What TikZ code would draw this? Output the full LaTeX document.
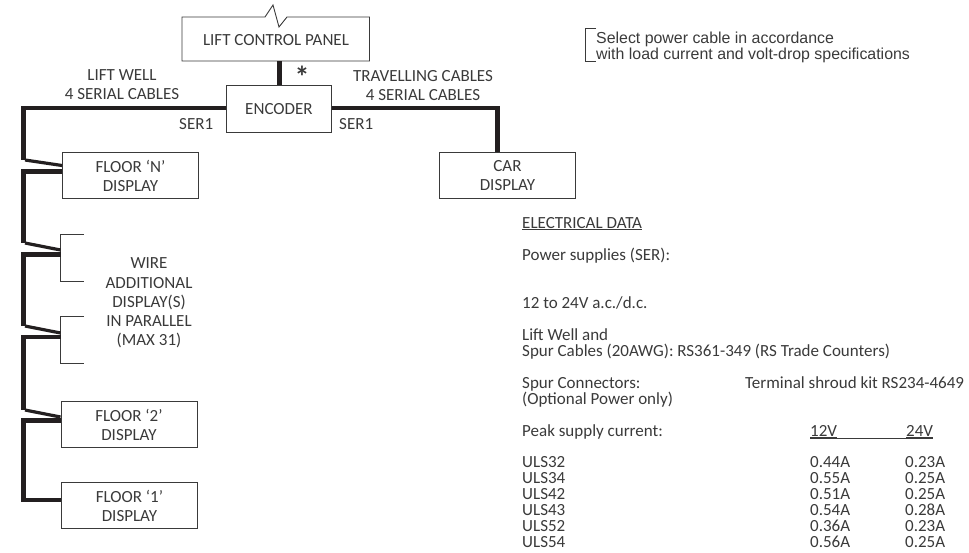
\documentclass[tikz,border=0pt]{standalone}
\usepackage{fontspec}
\setmainfont{Carlito}
\newfontfamily\hv{Liberation Sans}
\definecolor{ink}{HTML}{3A3A3A}
\definecolor{cable}{HTML}{231F20}
\tikzset{
  box/.style={draw=ink,line width=0.9pt,minimum width=#1,inner sep=0pt},
  lbl/.style={text=ink,font=\fontsize{17}{19}\selectfont,inner sep=0pt},
  tx/.style={lbl,anchor=base west},
  ctr/.style={lbl,anchor=base,align=center},
  note/.style={anchor=base west,inner sep=0pt,text=ink,font=\hv\fontsize{15.9}{16}\selectfont},
  cablepath/.style={draw=cable,line width=4.6pt,line join=miter},
  spur/.style={draw=cable,line width=3.2pt},
  brk/.style={draw=ink,line width=0.9pt}
}
\begin{document}
\begin{tikzpicture}[x=1pt,y=-1pt]
\useasboundingbox (0,0) rectangle (969,552);
% panel
\draw[brk] (265,17) -- (182,17) -- (182,61) -- (369.5,61) -- (369.5,17) -- (287,17) -- (279,27) -- (273,5) -- cycle;
\node[ctr] (panel) at (276,45) {LIFT CONTROL PANEL};
\node[box=105pt,minimum height=47pt,anchor=north west,lbl,draw=ink] (enc) at (226,85) {ENCODER};
\node[box=136pt,minimum height=46pt,anchor=north west,lbl,draw=ink,align=center] (fn) at (62,152) {FLOOR ‘N’\\DISPLAY};
\node[box=136pt,minimum height=46pt,anchor=north west,lbl,draw=ink,align=center] (car) at (439,152) {CAR\\DISPLAY};
\node[box=136pt,minimum height=46pt,anchor=north west,lbl,draw=ink,align=center] (f2) at (60.5,401) {FLOOR ‘2’\\DISPLAY};
\node[box=136pt,minimum height=46pt,anchor=north west,lbl,draw=ink,align=center] (f1) at (61,482) {FLOOR ‘1’\\DISPLAY};
% cables
\draw[cable,line width=4.6pt] (279.5,61) -- (enc.north -| 279.5,61);
\draw[cablepath] (enc.west |- 0,108) -- (23.5,108) -- (23.5,160);
\draw[spur] (25,160) -- (fn.west |- 0,165.5);
\draw[cablepath] (fn.west |- 0,171.5) -- (23.5,171.5) -- (23.5,243);
\coordinate (b1) at (60.5,234); \coordinate (b2) at (60.5,281);
\coordinate (b3) at (60.5,316); \coordinate (b4) at (60.5,363);
\draw[brk] (84,234) -- (b1) -- (b2) -- (84,281);
\draw[brk] (84,316) -- (b3) -- (b4) -- (84,363);
\draw[spur] (25,243) -- (60.5,250);
\draw[cablepath] (60.5,254.5) -- (23.5,254.5) -- (23.5,326);
\draw[spur] (25,326) -- (60.5,333);
\draw[cablepath] (60.5,337) -- (23.5,337) -- (23.5,410);
\draw[spur] (25,410) -- (f2.west |- 0,417);
\draw[cablepath] (f2.west |- 0,420.5) -- (23.5,420.5) -- (23.5,500) -- (f1.west |- 0,500);
\draw[cablepath] (enc.east |- 0,108) -- (497.5,108) -- (car.north -| 497.5,0);
% labels
\node[lbl,anchor=base,font=\bfseries\fontsize{30}{30}\selectfont] (star) at (302,87) {*};
\node[ctr] (lw1) at (122,80) {LIFT WELL};
\node[ctr] (lw2) at (122,99) {4 SERIAL CABLES};
\node[ctr] (tc1) at (423,81) {TRAVELLING CABLES};
\node[ctr] (tc2) at (423,100) {4 SERIAL CABLES};
\node[tx] (s1) at (179,129) {SER1};
\node[tx] (s2) at (339,129) {SER1};
\node[ctr] (w1) at (149,268) {WIRE};
\node[ctr] (w2) at (149,288) {ADDITIONAL};
\node[ctr] (w3) at (149,307) {DISPLAY(S)};
\node[ctr] (w4) at (149,326) {IN PARALLEL};
\node[ctr] (w5) at (149,345) {(MAX 31)};
% note
\draw[brk] (596,28.5) -- (585.5,28.5) -- (585.5,61.5) -- (596,61.5);
\node[note] (n1) at (596,43) {Select power cable in accordance};
\node[note] (n2) at (596,59) {with load current and volt-drop specifications};
% data
\node[tx] (d1) at (522,228) {\underline{ELECTRICAL DATA}};
\node[tx] (d2) at (522,260) {Power supplies (SER):};
\node[tx] (d3) at (522,308) {12 to 24V a.c./d.c.};
\node[tx] (d4) at (522,340) {Lift Well and};
\node[tx] (d5) at (522,356) {Spur Cables (20AWG): RS361-349 (RS Trade Counters)};
\node[tx] (d6) at (522,388) {Spur Connectors:};
\node[tx] (d7) at (745,388) {Terminal shroud kit RS234-4649};
\node[tx] (d8) at (522,404) {(Optional Power only)};
\node[tx] (d9) at (522,436) {Peak supply current:};
\node[tx] (v12) at (810,436) {\underline{12V}};
\node[tx] (v24) at (906,436) {\underline{24V}};
\draw[ink,line width=0.9pt] (v12.base west) ++(0,2) -- ([yshift=-2pt]v24.base east);
\foreach \y/\n/\a/\b in {467.3/ULS32/0.44A/0.23A,483.3/ULS34/0.55A/0.25A,499.3/ULS42/0.51A/0.25A,515.3/ULS43/0.54A/0.28A,531.7/ULS52/0.36A/0.23A,547.7/ULS54/0.56A/0.25A}{
  \node[tx] (r\n) at (522,\y) {\n};
  \node[tx] (a\n) at (810,\y) {\a};
  \node[tx] (b\n) at (905,\y) {\b};
}
\end{tikzpicture}
\end{document}
